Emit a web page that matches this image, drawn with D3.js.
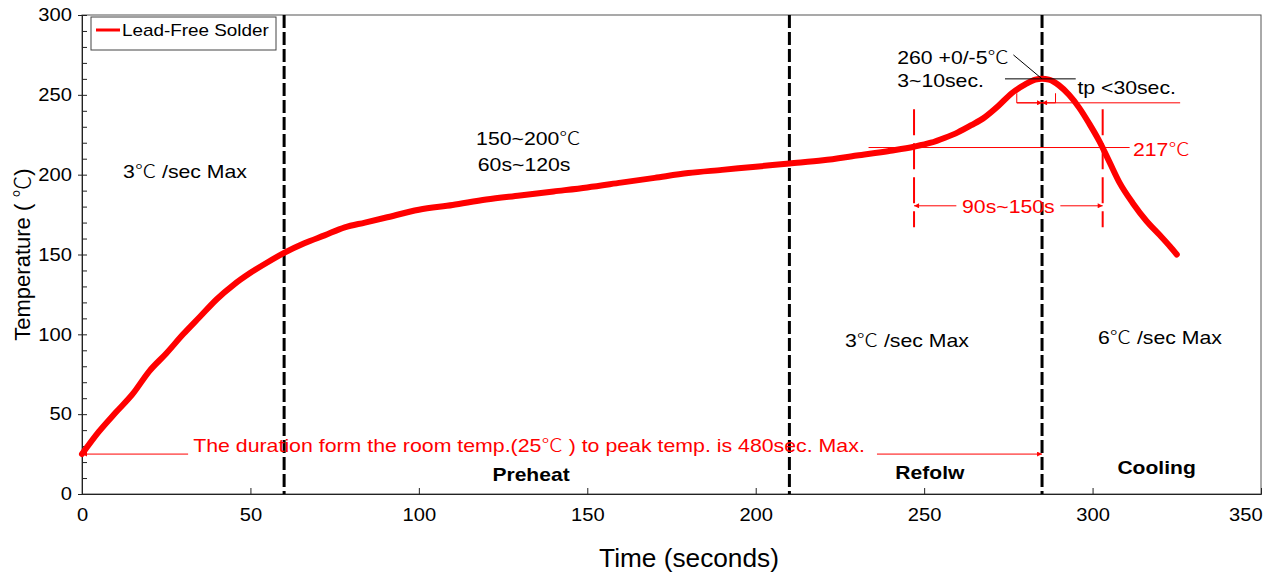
<!DOCTYPE html>
<html>
<head>
<meta charset="utf-8">
<script src="https://cdn.jsdelivr.net/npm/d3@7"></script>
<style>
body { margin: 0; background: #fff; }
text { font-family: Arial, "Liberation Sans", sans-serif; }
</style>
</head>
<body>
<script>
// reflow profile
var time = [0, 5, 10, 15, 20, 25, 30, 35, 40, 45, 50, 55, 60, 66, 72, 78, 84, 90, 100, 110, 120, 130, 140, 150, 160, 170, 180, 190, 200, 210, 220, 230, 240, 247, 252, 256, 260, 264, 268, 272, 276, 280, 283, 285, 287, 290, 293, 296, 299, 302, 305, 308, 312, 316, 320, 323, 325];
var temp = [25, 39, 51, 62.5, 77, 88, 100, 111, 122, 131, 138.5, 145, 151, 157, 162, 167, 170, 173, 178, 181, 184.5, 187, 189.5, 192, 195, 198, 201, 203, 205, 207, 209, 212, 215, 217.5, 220, 223, 226.5, 231, 236, 243, 251, 256.5, 259.5, 260, 259.5, 256, 250, 242, 232, 221, 208, 195, 182, 171, 162, 155, 150];

var xTicks = [0, 50, 100, 150, 200, 250, 300, 350];
var yTicks = [0, 50, 100, 150, 200, 250, 300];
var zoneLines = [60, 210, 285];
var liquidus = 217;
var tlWindow = [247, 303];
var peak = {t: 285, T: 260};

var width = 1271, height = 575;
var margin = {top: 15, right: 10, bottom: 81, left: 82};

var svg = d3.select("body").append("svg")
    .attr("width", width)
    .attr("height", height);

var x = d3.scaleLinear().domain([0, 350]).range([margin.left, width - margin.right]);
var y = d3.scaleLinear().domain([0, 300]).range([height - margin.bottom, margin.top]);

var red = "#ff0000";

// the original font is a bit wider than Arial, so stretch text sideways
function label(px, py, str, size, sx, color, anchor, bold) {
    var t = svg.append("text")
        .attr("transform", "translate(" + px + "," + py + ") scale(" + sx + ",1)")
        .attr("font-size", size + "px")
        .attr("fill", color || "#000")
        .attr("text-anchor", anchor || "start");
    if (bold) t.attr("font-weight", "bold");
    var parts = str.split("℃");
    parts.forEach(function(p, i) {
        if (p) t.append("tspan").text(p);
        if (i < parts.length - 1)
            t.append("tspan").style("font-family", "'Noto Sans CJK SC', sans-serif")
                .attr("font-weight", 300).text("℃");
    });
    return t;
}

svg.append("defs").selectAll("marker")
    .data(["arr"])
    .enter().append("marker")
    .attr("id", "arr")
    .attr("viewBox", "0 0 10 10")
    .attr("refX", 10).attr("refY", 5)
    .attr("markerWidth", 15).attr("markerHeight", 5)
    .attr("markerUnits", "userSpaceOnUse")
    .attr("orient", "auto")
    .append("path").attr("d", "M0,0L10,5L0,10Z").attr("fill", red);

// frame
svg.append("rect")
    .attr("x", x(0)).attr("y", y(300))
    .attr("width", x(350) - x(0)).attr("height", y(0) - y(300))
    .attr("fill", "none").attr("stroke", "#555").attr("stroke-width", 1);

// axes
var xAxis = svg.append("g")
    .attr("transform", "translate(0," + y(0) + ")")
    .call(d3.axisBottom(x).tickValues(xTicks).tickSize(-6).tickPadding(14));
var yAxis = svg.append("g")
    .attr("transform", "translate(" + x(0) + ",0)")
    .call(d3.axisLeft(y).tickValues(d3.range(0, 301, 10)).tickSize(-5).tickPadding(10)
        .tickFormat(function(d) { return yTicks.indexOf(d) >= 0 ? d : ""; }));
[xAxis, yAxis].forEach(function(a) {
    a.select(".domain").attr("stroke", "#222");
    a.selectAll("line").attr("stroke", "#222");
    a.selectAll("text").attr("font-size", "18px").attr("fill", "#000")
        .style("font-family", "Arial, 'Liberation Sans', sans-serif");
});
xAxis.selectAll(".tick text").attr("transform", "scale(1.12,1)");
yAxis.selectAll(".tick text").attr("transform", function() {
    return "translate(" + (-d3.select(this).attr("x") * 0.12) + ",0) scale(1.12,1)";
});
xAxis.selectAll(".tick").filter(function(d) { return d == 350; })
    .select("text").attr("text-anchor", "end").attr("x", 1);
yAxis.selectAll(".tick line").attr("x1", function(d) { return d % 50 == 0 ? -4 : 0; });

label(689, 567, "Time (seconds)", 25, 1.05, "#000", "middle");
svg.append("text")
    .attr("transform", "translate(30," + y(150) + ") rotate(-90)")
    .attr("text-anchor", "middle").attr("font-size", "22px")
    .call(function(t) {
        t.append("tspan").text("Temperature ( ");
        t.append("tspan").style("font-family", "'Noto Sans CJK SC', sans-serif").attr("font-weight", 300).text("℃");
        t.append("tspan").text(")");
    });

// zone separators
svg.selectAll(".zone")
    .data(zoneLines)
    .enter().append("line")
    .attr("x1", function(d) { return x(d); })
    .attr("x2", function(d) { return x(d); })
    .attr("y1", y(300)).attr("y2", y(0))
    .attr("stroke", "#000").attr("stroke-width", 3)
    .attr("stroke-dasharray", "13,4");

// liquidus window
svg.selectAll(".tl")
    .data(tlWindow)
    .enter().append("line")
    .attr("x1", function(d) { return x(d); })
    .attr("x2", function(d) { return x(d); })
    .attr("y1", y(241)).attr("y2", y(167))
    .attr("stroke", red).attr("stroke-width", 2)
    .attr("stroke-dasharray", "26,8");

svg.append("line")
    .attr("x1", x(233.5)).attr("x2", x(311))
    .attr("y1", y(liquidus)).attr("y2", y(liquidus))
    .attr("stroke", red).attr("stroke-width", 1);
label(x(312), y(212), liquidus + "℃", 18, 1.18, red);

var midW = (tlWindow[0] + tlWindow[1]) / 2;
svg.append("line")
    .attr("x1", x(midW) - 52).attr("x2", x(tlWindow[0]))
    .attr("y1", y(180.5)).attr("y2", y(180.5))
    .attr("stroke", red).attr("stroke-width", 1).attr("marker-end", "url(#arr)");
svg.append("line")
    .attr("x1", x(midW) + 52).attr("x2", x(tlWindow[1]))
    .attr("y1", y(180.5)).attr("y2", y(180.5))
    .attr("stroke", red).attr("stroke-width", 1).attr("marker-end", "url(#arr)");
label(x(midW), y(176), "90s~150s", 18, 1.18, red, "middle");

// time-at-peak marks
svg.append("line")
    .attr("x1", x(277.5)).attr("x2", x(326))
    .attr("y1", y(245)).attr("y2", y(245))
    .attr("stroke", red).attr("stroke-width", 1);
[277.5, 289].forEach(function(t) {
    svg.append("line")
        .attr("x1", x(t)).attr("x2", x(t))
        .attr("y1", y(245)).attr("y2", y(251))
        .attr("stroke", red).attr("stroke-width", 1);
    svg.append("line")
        .attr("x1", x(t)).attr("x2", x(peak.t))
        .attr("y1", y(245)).attr("y2", y(245))
        .attr("stroke", red).attr("stroke-width", 1).attr("marker-end", "url(#arr)");
});

// profile curve
var line = d3.line()
    .x(function(d, i) { return x(time[i]); })
    .y(function(d) { return y(d); })
    .curve(d3.curveMonotoneX);
svg.append("path")
    .datum(temp)
    .attr("d", line)
    .attr("fill", "none").attr("stroke", red)
    .attr("stroke-width", 6).attr("stroke-linecap", "round").attr("stroke-linejoin", "round");

// peak annotation
svg.append("line")
    .attr("x1", x(274)).attr("x2", x(295))
    .attr("y1", y(peak.T)).attr("y2", y(peak.T))
    .attr("stroke", "#000").attr("stroke-width", 1);
svg.append("line")
    .attr("x1", x(276.5)).attr("x2", x(peak.t))
    .attr("y1", y(275)).attr("y2", y(peak.T))
    .attr("stroke", "#000").attr("stroke-width", 1);
label(x(242), y(269.5), "260 +0/-5℃", 18, 1.18);
label(x(242), y(255), "3~10sec.", 18, 1.18);
label(x(295.5), y(250.5), "tp <30sec.", 18, 1.18);

// zone notes
var notes = [
    {t: 12.2, T: 198, s: "3℃ /sec Max"},
    {t: 117, T: 218.5, s: "150~200℃"},
    {t: 117.5, T: 202.5, s: "60s~120s"},
    {t: 226.5, T: 92, s: "3℃ /sec Max"},
    {t: 301.6, T: 94, s: "6℃ /sec Max"}
];
notes.forEach(function(d) { label(x(d.t), y(d.T), d.s, 18, 1.18); });

var zones = [
    {t: 133.3, T: 8, s: "Preheat"},
    {t: 251.7, T: 9.5, s: "Refolw"},
    {t: 319, T: 12.5, s: "Cooling"}
];
zones.forEach(function(d) { label(x(d.t), y(d.T), d.s, 18, 1.17, "#000", "middle", true); });

// total duration arrow
svg.append("line")
    .attr("x1", x(31.5)).attr("x2", x(0))
    .attr("y1", y(25)).attr("y2", y(25))
    .attr("stroke", red).attr("stroke-width", 1).attr("marker-end", "url(#arr)");
svg.append("line")
    .attr("x1", x(236)).attr("x2", x(peak.t))
    .attr("y1", y(25)).attr("y2", y(25))
    .attr("stroke", red).attr("stroke-width", 1).attr("marker-end", "url(#arr)");
label(x(33), y(26), "The duration form the room temp.(25℃ ) to peak temp. is 480sec. Max.", 18, 1.185, red);

// legend
svg.append("rect")
    .attr("x", 91).attr("y", 17).attr("width", 185).attr("height", 33)
    .attr("fill", "#fff").attr("stroke", "#444").attr("stroke-width", 1);
svg.append("line")
    .attr("x1", 96).attr("x2", 120).attr("y1", 30).attr("y2", 30)
    .attr("stroke", red).attr("stroke-width", 3);
label(122, 36, "Lead-Free Solder", 16, 1.18);
</script>
</body>
</html>
